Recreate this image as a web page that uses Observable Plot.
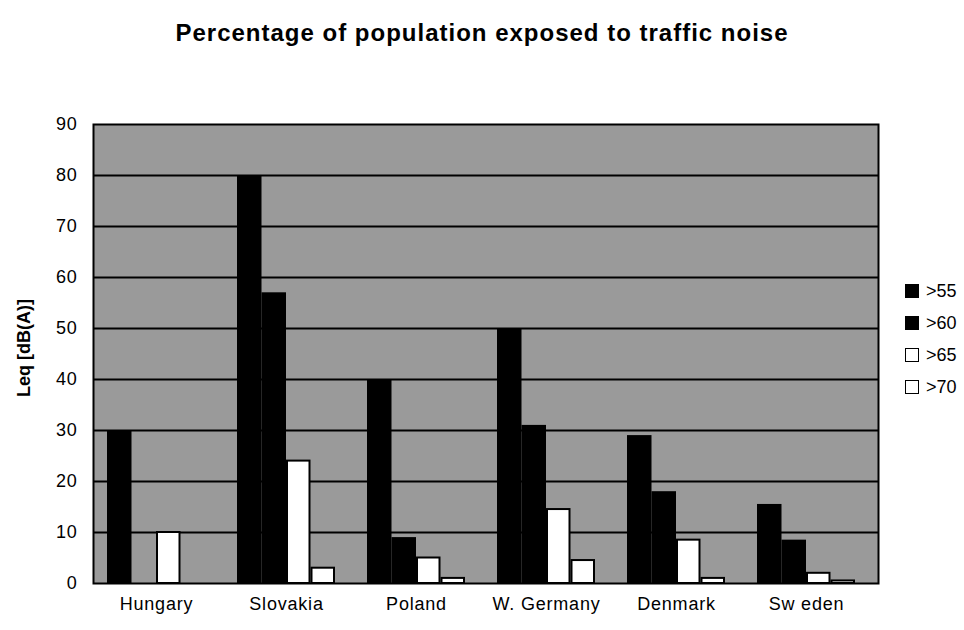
<!DOCTYPE html>
<html>
<head>
<meta charset="utf-8">
<script src="https://cdn.jsdelivr.net/npm/d3@7"></script>
<script src="https://cdn.jsdelivr.net/npm/@observablehq/plot@0.6"></script>
<style>
  body { margin: 0; background: #fff; font-family: "Liberation Sans", Arial, sans-serif; }
  #wrap { position: relative; width: 964px; height: 630px; }
  #title { position: absolute; top: 19px; left: 0; width: 964px; text-align: center;
           font-weight: bold; font-size: 24px; letter-spacing: 1px; color: #000; }
  #ylabel { position: absolute; left: 24px; top: 348px; transform: translate(-50%, -50%) rotate(-90deg);
            font-weight: bold; font-size: 18px; white-space: nowrap; color: #000; }
  #legend { position: absolute; left: 905px; top: 275px; font-size: 18px; color: #000; }
  #legend div { height: 32px; display: flex; align-items: center; }
  #legend span.sw { display: inline-block; width: 12px; height: 12px; border: 1.5px solid #000; margin-right: 7px; }
</style>
</head>
<body>
<div id="wrap">
  <div id="title">Percentage of population exposed to traffic noise</div>
  <div id="chart"></div>
  <div id="ylabel">Leq [dB(A)]</div>
  <div id="legend"></div>
</div>
<script>
const countries = ["Hungary", "Slovakia", "Poland", "W. Germany", "Denmark", "Sw eden"];
const series = [">55", ">60", ">65", ">70"];
const seriesFill = ["#000", "#000", "#fff", "#fff"];
const v55 = [30, 80, 40, 50, 29, 15.5];
const v60 = [0, 57, 9, 31, 18, 8.5];
const v65 = [10, 24, 5, 14.5, 8.5, 2];
const v70 = [0, 3, 1, 4.5, 1, 0.5];
const yTicks = [0, 10, 20, 30, 40, 50, 60, 70, 80, 90];

const values = [v55, v60, v65, v70];
const data = [];
series.forEach((s, k) => countries.forEach((c, i) => data.push({country: c, series: s, k, value: values[k][i]})));

function make(bw) {
  const marks = [
    Plot.frame({fill: "#9a9a9a"}),
    Plot.ruleY(yTicks.filter(d => d > 0 && d < 90), {stroke: "#000", strokeWidth: 2})
  ];
  series.forEach((s, k) => {
    const dk = data.filter(d => d.k === k && d.value > 0);
    marks.push(Plot.barY(dk, {
      x: "country", y: "value",
      fill: seriesFill[k],
      stroke: k >= 2 ? "#000" : "none",
      strokeWidth: 2,
      insetLeft: k * bw / 4 + (k >= 2 ? 1 : 0),
      insetRight: (3 - k) * bw / 4 + (k >= 2 ? 1 : 0)
    }));
  });
  marks.push(Plot.frame({stroke: "#000", strokeWidth: 2}));
  return Plot.plot({
    width: 964, height: 630,
    marginLeft: 93, marginRight: 86, marginTop: 124, marginBottom: 47,
    style: {fontFamily: "'Liberation Sans', Arial, sans-serif", fontSize: "18px", color: "#000", background: "#fff"},
    x: {domain: countries, paddingInner: 0.248, paddingOuter: 0.134, align: 0.37, label: null, tickSize: 0, tickPadding: 14},
    y: {domain: [0, 90], ticks: yTicks, tickSize: 0, tickPadding: 16, label: null},
    marks
  });
}
let chart = make(0);
const bw = chart.scale("x").bandwidth;
chart = make(bw);
document.getElementById("chart").appendChild(chart);
d3.select(chart).selectAll("g[aria-label='x-axis tick label'] text").style("letter-spacing", "0.8px");
d3.select(chart).selectAll("g[aria-label='y-axis tick label'] text").style("letter-spacing", "0.8px");

const leg = document.getElementById("legend");
series.forEach((s, k) => {
  const row = document.createElement("div");
  const sw = document.createElement("span");
  sw.className = "sw";
  sw.style.background = seriesFill[k];
  row.appendChild(sw);
  row.appendChild(document.createTextNode(s));
  leg.appendChild(row);
});
</script>
</body>
</html>
